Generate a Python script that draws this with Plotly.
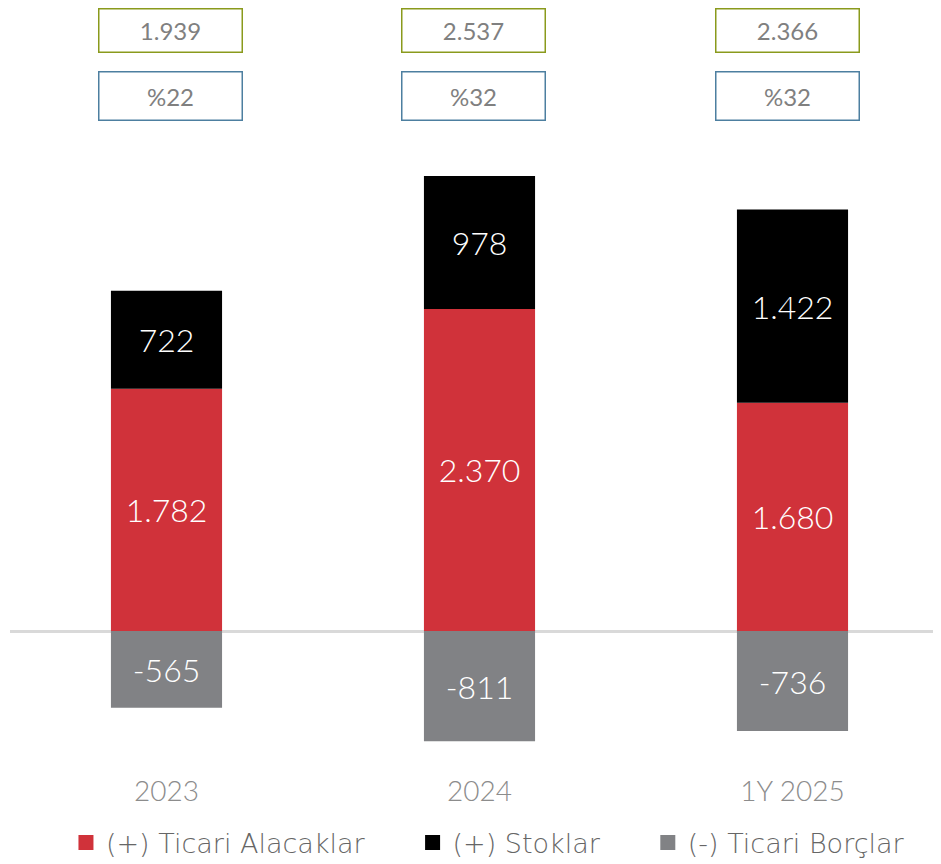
import plotly.graph_objects as go

categories = ["2023", "2024", "1Y 2025"]
receivables = [1782, 2370, 1680]
inventories = [722, 978, 1422]
payables = [-565, -811, -736]
totals = [1939, 2537, 2366]
ratios = ["%22", "%32", "%32"]

def fmt(v):
    return f"{v:,}".replace(",", ".")

FONT = "Lato, 'Open Sans', sans-serif"
LFONT = "'DejaVu Sans', 'Open Sans', sans-serif"
NB = "\u00a0"
fig = go.Figure()
series = [
    ("(+) Ticari Alacaklar", receivables, "#d0323a", 5),
    ("(+) Stoklar", inventories, "#000000", 5),
    ("(-) Ticari Borçlar", payables, "#818285", 0),
]
for name, vals, col, pad in series:
    fig.add_trace(go.Bar(
        x=categories, y=vals, name=name, showlegend=False,
        marker=dict(color=col, line=dict(width=0)),
        text=[fmt(v) for v in vals], textposition="inside",
        insidetextanchor="middle", textangle=0,
        textfont=dict(color="white", size=32, family=FONT, weight=300),
        hoverinfo="skip",
    ))
for name, vals, col, pad in series:
    fig.add_trace(go.Scatter(
        x=[categories[0]], y=[None], mode="markers", name=name + NB * pad,
        marker=dict(symbol="square", size=15, color=col), hoverinfo="skip",
    ))

box_shift = [4, -6, -5]
for i, c in enumerate(categories):
    fig.add_annotation(x=i, y=1.1728, xref="x", yref="paper", yanchor="middle",
                       xshift=box_shift[i], text=fmt(totals[i]),
                       showarrow=False, width=140, height=40, bordercolor="#8a9a1c",
                       borderwidth=1.5,
                       font=dict(size=24, color="#808080", family=FONT, weight=400))
    fig.add_annotation(x=i, y=1.0683, xref="x", yref="paper", yanchor="middle",
                       xshift=box_shift[i], text=ratios[i],
                       showarrow=False, width=140, height=45, bordercolor="#4d7fa0",
                       borderwidth=1.5,
                       font=dict(size=24, color="#808080", family=FONT, weight=400))

fig.update_layout(
    width=941, height=864,
    margin=dict(l=2, r=0, t=130, b=112),
    barmode="relative", bargap=0.645,
    plot_bgcolor="white", paper_bgcolor="white",
    font=dict(family=FONT, color="#808080"),
    showlegend=True,
    legend=dict(orientation="h", x=0.0596, xanchor="left", y=-0.1334, yanchor="middle",
                font=dict(size=27, color="#666666", family=LFONT, weight=200),
                traceorder="normal", itemsizing="trace"),
    xaxis=dict(type="category", categoryorder="array", categoryarray=categories,
               range=[-0.5, 2.5], showgrid=False, showline=False, ticks="",
               ticklabelstandoff=12,
               tickfont=dict(size=28, color="#8c8c8c", weight=300), fixedrange=True),
    yaxis=dict(range=[-949, 3628], showgrid=False, showticklabels=False, zeroline=True,
               zerolinecolor="#d9d9d9", zerolinewidth=3, fixedrange=True),
)
fig.write_html("out.html")
